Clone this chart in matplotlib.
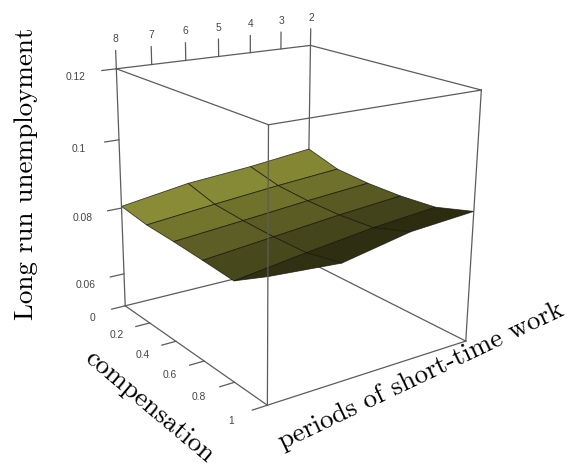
import numpy as np
import matplotlib
matplotlib.use("Agg")
import matplotlib.pyplot as plt
from mpl_toolkits.mplot3d import proj3d

# ---------------- data ----------------
periods = [2, 4, 6, 8]
compensation = [0.0, 0.2, 0.4, 0.6, 0.8, 1.0]
# long run unemployment: rows = compensation, columns = periods
unemployment = [
    [0.0874, 0.0852, 0.0836, 0.0805],
    [0.0845, 0.0830, 0.0812, 0.0792],
    [0.0838, 0.0823, 0.0805, 0.0788],
    [0.0838, 0.0822, 0.0802, 0.0782],
    [0.0845, 0.0828, 0.0803, 0.0775],
    [0.0874, 0.0860, 0.0822, 0.0835],
]
period_ticks = [2, 3, 4, 5, 6, 7, 8]
period_tick_labels = ["2", "3", "4", "5", "6", "7", "8"]
comp_ticks = [0.0, 0.2, 0.4, 0.6, 0.8, 1.0]
comp_tick_labels = ["0", "0.2", "0.4", "0.6", "0.8", "1"]
unemp_ticks = [0.06, 0.08, 0.10, 0.12]
unemp_tick_labels = ["0.06", "0.08", "0.1", "0.12"]
xlim = (2, 8)
ylim = (0, 1)
zlim = (0.05, 0.12)

x_title = "periods of short-time work"
y_title = "compensation"
z_title = "Long run unemployment"

# ---------------- figure ----------------
W, H = 574, 469
fig = plt.figure(figsize=(W / 100, H / 100), dpi=100)
ax = fig.add_axes([-2 / W, 23 / H, 1, 1], projection="3d", computed_zorder=False)
ax.set_proj_type("persp", focal_length=0.46)
ax.view_init(elev=18.2, azim=54.5, roll=-0.6)
ax.set_box_aspect((0.89, 1, 0.95), zoom=0.917)
ax.set_xlim(*xlim)
ax.set_ylim(*ylim)
ax.set_zlim(*zlim)
ax.set_axis_off()

box_col = "#5c5c5c"
box_lw = 0.9
x0, x1 = xlim
y0, y1 = ylim
z0, z1 = zlim

back_edges = [
    ((x0, x0), (y0, y0), (z0, z1)),
    ((x0, x1), (y0, y0), (z0, z0)),
    ((x0, x0), (y0, y1), (z0, z0)),
]
front_edges = [
    ((x1, x1), (y0, y0), (z0, z1)),
    ((x1, x1), (y1, y1), (z0, z1)),
    ((x0, x0), (y1, y1), (z0, z1)),
    ((x0, x1), (y0, y0), (z1, z1)),
    ((x0, x1), (y1, y1), (z1, z1)),
    ((x0, x0), (y0, y1), (z1, z1)),
    ((x1, x1), (y0, y1), (z1, z1)),
    ((x0, x1), (y1, y1), (z0, z0)),
    ((x1, x1), (y0, y1), (z0, z0)),
]
for xs, ys, zs in back_edges:
    ax.plot(xs, ys, zs, color=box_col, lw=box_lw, zorder=1)

P, C = np.meshgrid(periods, compensation)
Z = np.array(unemployment)
nr, nc = Z.shape
base = np.array([0.57, 0.58, 0.225])
fc = np.zeros((nr, nc, 4))
for i in range(nr):
    for j in range(nc):
        tc = min(i + 0.5, nr - 1) / (nr - 1)
        tp = min(j + 0.5, nc - 1) / (nc - 1)
        inten = 0.95 - 0.76 * (tc - 0.1) - 0.05 * (1 - tp)
        inten = max(inten, 0.3)
        fc[i, j, :3] = base * inten
        fc[i, j, 3] = 1
ax.plot_surface(P, C, Z, facecolors=fc, shade=False, rstride=1, cstride=1,
                edgecolor=(0.07, 0.07, 0.03, 0.75), linewidth=0.6,
                antialiased=True, zorder=2)

for xs, ys, zs in front_edges:
    ax.plot(xs, ys, zs, color=box_col, lw=box_lw, zorder=3)

for v in unemp_ticks:
    ax.plot((x1, x1 + 0.4), (y0, y0), (v, v), color=box_col, lw=box_lw, zorder=3)
for v in comp_ticks:
    ax.plot((x1, x1 + 0.4), (v, v), (z0, z0), color=box_col, lw=box_lw, zorder=3)
for v in period_ticks:
    ax.plot((v, v), (y0, y0), (z1, z1 + 0.005), color=box_col, lw=box_lw, zorder=3)

# tick labels: project 3D anchor points through the axes, place as 2D text
fig.canvas.draw()
M = ax.get_proj()


def to_fig(x, y, z):
    xp, yp, _ = proj3d.proj_transform(x, y, z, M)
    px, py = ax.transData.transform((xp, yp))
    return fig.transFigure.inverted().transform((px, py))


tick_font = dict(family="Liberation Sans", size=7.4, color="#454545",
                 ha="center", va="center")
for v, lab in zip(unemp_ticks, unemp_tick_labels):
    fig.text(*to_fig(x1 + 1.12, y0, v - 0.0008), lab, **tick_font)
for v, lab in zip(comp_ticks, comp_tick_labels):
    fig.text(*to_fig(x1 + 0.95, v, z0 - 0.0012), lab, **tick_font)
for v, lab in zip(period_ticks, period_tick_labels):
    fig.text(*to_fig(v, y0, z1 + 0.0083), lab, **tick_font)

title_font = dict(family="cmr10", size=19.5, color="black", ha="center",
                  va="center", rotation_mode="anchor")
fig.text(26 / W, 1 - 174 / H, z_title, rotation=90, **title_font)
fig.text(149 / W, 1 - 407 / H, y_title, rotation=-40, **title_font)
fig.text(421 / W, 1 - 376 / H, x_title, rotation=25.5, **title_font)

fig.savefig("out.png", dpi=100)
